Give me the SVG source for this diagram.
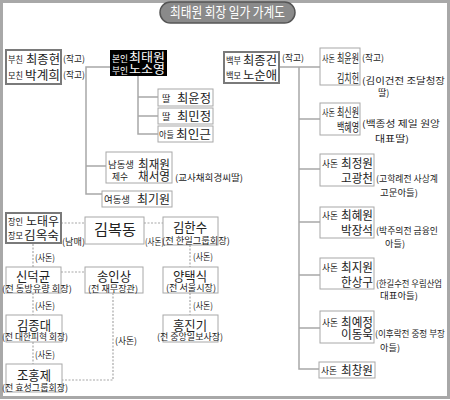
<svg xmlns="http://www.w3.org/2000/svg" width="450" height="400" viewBox="0 0 450 400">
<style>
text{font-family:"Noto Sans CJK KR","Noto Sans",sans-serif;fill:#222}
.s{font-size:9px}
.n{font-size:12px}
.b{font-size:14px}
.box{fill:#fff;stroke:#a8a8a8;stroke-width:1}
.tbox{fill:#fff;stroke:#7a7a7a;stroke-width:2}
.ln{fill:none;stroke:#a8a8a8;stroke-width:1.5}
.dl{fill:none;stroke:#a8a8a8;stroke-width:1.2;stroke-dasharray:2 1.5}
.w{fill:#fff}
.c{text-anchor:middle}
</style>
<rect x="1.5" y="1.5" width="447" height="396" fill="#fff" stroke="#a8a8a8" stroke-width="3"/>

<g id="title">
<rect x="160" y="2" width="135" height="21" rx="10.5" fill="#8a8a8a" stroke="#555" stroke-width="1.5"/>
<text x="227.5" y="17" class="c w" font-size="14" textLength="115" lengthAdjust="spacingAndGlyphs">최태원 회장 일가 가계도</text>
</g>

<g id="connectors">
<path class="ln" d="M110,67 H86 V194 H102 M86,166 H106"/>
<path class="ln" d="M138,76 V134 H158 M138,97 H158 M138,116 H158"/>
<path class="ln" d="M279,67 H320 M299,67 V369 H319 M299,119 H320 M299,169 H320 M299,222 H320 M299,275 H320 M299,328 H320"/>
<path class="dl" d="M61,223 H85 M144,223 H163 M190,245 V267 M190,293 V315 M33,244 V267 M33,293 V315 M33,342 V364 M61,272 H85 M113,293 V380 H62"/>
</g>

<g id="parents">
<rect class="tbox" x="6" y="50" width="55" height="34"/>
<text class="s" x="8" y="63" textLength="15" lengthAdjust="spacingAndGlyphs">부친</text>
<text class="n" x="26" y="64" textLength="34" lengthAdjust="spacingAndGlyphs">최종현</text>
<text class="s" x="8" y="79" textLength="15" lengthAdjust="spacingAndGlyphs">모친</text>
<text class="n" x="25" y="80" font-size="13" textLength="35" lengthAdjust="spacingAndGlyphs">박계희</text>
<text class="s" x="63" y="62" textLength="22" lengthAdjust="spacingAndGlyphs">(작고)</text>
<text class="s" x="63" y="78" textLength="22" lengthAdjust="spacingAndGlyphs">(작고)</text>
</g>

<g id="self">
<rect x="110" y="50" width="57" height="26" fill="#000"/>
<text class="s w" x="112" y="62" textLength="16" lengthAdjust="spacingAndGlyphs">본인</text>
<text class="n w" x="129" y="62" textLength="36" lengthAdjust="spacingAndGlyphs">최태원</text>
<text class="s w" x="112" y="74" textLength="16" lengthAdjust="spacingAndGlyphs">부인</text>
<text class="n w" x="129" y="74" textLength="36" lengthAdjust="spacingAndGlyphs">노소영</text>
</g>

<g id="daughter1">
<rect class="box" x="158" y="89" width="55" height="17"/>
<text class="s" x="162" y="102">딸</text>
<text class="n" x="177" y="103" textLength="34" lengthAdjust="spacingAndGlyphs">최윤정</text>
</g>
<g id="daughter2">
<rect class="box" x="158" y="108" width="55" height="16"/>
<text class="s" x="162" y="120">딸</text>
<text class="n" x="177" y="121" textLength="34" lengthAdjust="spacingAndGlyphs">최민정</text>
</g>
<g id="son">
<rect class="box" x="158" y="126" width="55" height="16"/>
<text class="s" x="159" y="138" textLength="15" lengthAdjust="spacingAndGlyphs">아들</text>
<text class="n" x="176" y="139" textLength="35" lengthAdjust="spacingAndGlyphs">최인근</text>
</g>

<g id="brother">
<rect class="box" x="106" y="152" width="66" height="31"/>
<text class="s" x="108" y="168" textLength="26" lengthAdjust="spacingAndGlyphs">남동생</text>
<text class="n" x="138" y="169" textLength="32" lengthAdjust="spacingAndGlyphs">최재원</text>
<text class="s" x="112" y="180" textLength="16" lengthAdjust="spacingAndGlyphs">제수</text>
<text class="n" x="138" y="181" textLength="32" lengthAdjust="spacingAndGlyphs">채서영</text>
<text class="s" x="175" y="181" textLength="68" lengthAdjust="spacingAndGlyphs">(교사채희경씨딸)</text>
</g>

<g id="sister">
<rect class="box" x="102" y="191" width="70" height="16"/>
<text class="s" x="104" y="203" textLength="26" lengthAdjust="spacingAndGlyphs">여동생</text>
<text class="n" x="137" y="204" textLength="33" lengthAdjust="spacingAndGlyphs">최기원</text>
</g>

<g id="uncle">
<rect class="tbox" x="224" y="52" width="55" height="31"/>
<text class="s" x="226" y="64" textLength="15" lengthAdjust="spacingAndGlyphs">백부</text>
<text class="n" x="243" y="65" textLength="34" lengthAdjust="spacingAndGlyphs">최종건</text>
<text class="s" x="226" y="79" textLength="15" lengthAdjust="spacingAndGlyphs">백모</text>
<text class="n" x="243" y="80" textLength="34" lengthAdjust="spacingAndGlyphs">노순애</text>
<text class="s" x="282" y="61" textLength="22" lengthAdjust="spacingAndGlyphs">(작고)</text>
</g>

<g id="cousin1">
<rect class="box" x="320" y="48" width="40" height="37"/>
<text class="s" x="322" y="62" textLength="13" lengthAdjust="spacingAndGlyphs">사돈</text>
<text class="n" x="337" y="63" textLength="22" lengthAdjust="spacingAndGlyphs">최윤원</text>
<text class="n" x="337" y="83" textLength="22" lengthAdjust="spacingAndGlyphs">김치헌</text>
<text class="s" x="362" y="61" textLength="22" lengthAdjust="spacingAndGlyphs">(작고)</text>
<text class="s" x="362" y="84" textLength="83" lengthAdjust="spacingAndGlyphs">(김이건전 조달청장</text>
<text class="s" x="378" y="96">딸)</text>
</g>

<g id="cousin2">
<rect class="box" x="320" y="103" width="40" height="32"/>
<text class="s" x="322" y="116" textLength="13" lengthAdjust="spacingAndGlyphs">사돈</text>
<text class="n" x="337" y="117" textLength="22" lengthAdjust="spacingAndGlyphs">최신원</text>
<text class="n" x="337" y="132" textLength="22" lengthAdjust="spacingAndGlyphs">백혜영</text>
<text class="s" x="362" y="127" textLength="78" lengthAdjust="spacingAndGlyphs">(백종성 제일 원앙</text>
<text class="s" x="375" y="142" textLength="34" lengthAdjust="spacingAndGlyphs">대표딸)</text>
</g>

<g id="cousin3">
<rect class="box" x="320" y="154" width="54" height="32"/>
<text class="s" x="322" y="167" textLength="16" lengthAdjust="spacingAndGlyphs">사돈</text>
<text class="n" x="341" y="168" textLength="32" lengthAdjust="spacingAndGlyphs">최정원</text>
<text class="n" x="341" y="183" textLength="32" lengthAdjust="spacingAndGlyphs">고광천</text>
<text class="s" x="376" y="182" textLength="62" lengthAdjust="spacingAndGlyphs">(고학례전 사상계</text>
<text class="s" x="380" y="196" textLength="38" lengthAdjust="spacingAndGlyphs">고문아들)</text>
</g>

<g id="cousin4">
<rect class="box" x="320" y="207" width="54" height="31"/>
<text class="s" x="322" y="219" textLength="16" lengthAdjust="spacingAndGlyphs">사돈</text>
<text class="n" x="341" y="220" textLength="32" lengthAdjust="spacingAndGlyphs">최혜원</text>
<text class="n" x="341" y="235" textLength="32" lengthAdjust="spacingAndGlyphs">박장석</text>
<text class="s" x="376" y="234" textLength="62" lengthAdjust="spacingAndGlyphs">(박주의전 금융인</text>
<text class="s" x="385" y="247" textLength="20" lengthAdjust="spacingAndGlyphs">아들)</text>
</g>

<g id="cousin5">
<rect class="box" x="320" y="258" width="54" height="31"/>
<text class="s" x="322" y="271" textLength="16" lengthAdjust="spacingAndGlyphs">사돈</text>
<text class="n" x="341" y="272" textLength="32" lengthAdjust="spacingAndGlyphs">최지원</text>
<text class="n" x="341" y="287" textLength="32" lengthAdjust="spacingAndGlyphs">한상구</text>
<text class="s" x="376" y="287" textLength="66" lengthAdjust="spacingAndGlyphs">(한길수전 우림산업</text>
<text class="s" x="380" y="299" textLength="38" lengthAdjust="spacingAndGlyphs">대표아들)</text>
</g>

<g id="cousin6">
<rect class="box" x="320" y="311" width="54" height="32"/>
<text class="s" x="322" y="326" textLength="16" lengthAdjust="spacingAndGlyphs">사돈</text>
<text class="n" x="341" y="327" textLength="32" lengthAdjust="spacingAndGlyphs">최예정</text>
<text class="n" x="341" y="339" textLength="32" lengthAdjust="spacingAndGlyphs">이동욱</text>
<text class="s" x="375" y="337" textLength="70" lengthAdjust="spacingAndGlyphs">(이후락전 중정 부장</text>
<text class="s" x="380" y="351" textLength="20" lengthAdjust="spacingAndGlyphs">아들)</text>
</g>

<g id="cousin7">
<rect class="box" x="319" y="362" width="56" height="16"/>
<text class="s" x="321" y="374" textLength="16" lengthAdjust="spacingAndGlyphs">사돈</text>
<text class="n" x="341" y="375" textLength="32" lengthAdjust="spacingAndGlyphs">최창원</text>
</g>

<g id="inlaws">
<rect class="tbox" x="6" y="213" width="55" height="30"/>
<text class="s" x="8" y="225" textLength="15" lengthAdjust="spacingAndGlyphs">장인</text>
<text class="n" x="26" y="226" textLength="33" lengthAdjust="spacingAndGlyphs">노태우</text>
<text class="s" x="8" y="239" textLength="15" lengthAdjust="spacingAndGlyphs">장모</text>
<text class="n" x="24" y="240" font-size="13" textLength="35" lengthAdjust="spacingAndGlyphs">김옥숙</text>
<text class="s" x="62" y="245" textLength="23" lengthAdjust="spacingAndGlyphs">(남매)</text>
</g>

<g id="kimbokdong">
<rect class="box" x="85" y="217" width="59" height="27"/>
<text class="c" x="115" y="235" font-size="15" textLength="42" lengthAdjust="spacingAndGlyphs">김복동</text>
<text class="s" x="145" y="245" textLength="19" lengthAdjust="spacingAndGlyphs">(사돈)</text>
</g>

<g id="kimhansu">
<rect class="box" x="163" y="217" width="55" height="28"/>
<text class="c" x="190" y="232" font-size="13" textLength="34" lengthAdjust="spacingAndGlyphs">김한수</text>
<text class="s" x="162" y="244" textLength="68" lengthAdjust="spacingAndGlyphs">(전 한일그룹회장)</text>
<text class="s" x="193" y="260" textLength="20" lengthAdjust="spacingAndGlyphs">(사돈)</text>
</g>

<g id="yangtaeksik">
<rect class="box" x="163" y="267" width="55" height="26"/>
<text class="c" x="190" y="281" font-size="13" textLength="34" lengthAdjust="spacingAndGlyphs">양택식</text>
<text class="s" x="166" y="291" textLength="50" lengthAdjust="spacingAndGlyphs">(전 서울시장)</text>
<text class="s" x="193" y="309" textLength="20" lengthAdjust="spacingAndGlyphs">(사돈)</text>
</g>

<g id="hongjingi">
<rect class="box" x="163" y="315" width="55" height="27"/>
<text class="c" x="190" y="330" font-size="13" textLength="34" lengthAdjust="spacingAndGlyphs">홍진기</text>
<text class="s" x="157" y="340" textLength="66" lengthAdjust="spacingAndGlyphs">(전 중앙일보사장)</text>
</g>

<g id="sindeokgyun">
<text class="s" x="35" y="261" textLength="20" lengthAdjust="spacingAndGlyphs">(사돈)</text>
<rect class="box" x="6" y="267" width="55" height="26"/>
<text class="c" x="33" y="281" font-size="13" textLength="34" lengthAdjust="spacingAndGlyphs">신덕균</text>
<text class="s" x="2" y="292" textLength="70" lengthAdjust="spacingAndGlyphs">(전 동방유량 회장)</text>
</g>

<g id="songinsang">
<rect class="box" x="85" y="267" width="58" height="26"/>
<text class="c" x="114" y="281" font-size="13" textLength="34" lengthAdjust="spacingAndGlyphs">송인상</text>
<text class="s" x="88" y="292" textLength="50" lengthAdjust="spacingAndGlyphs">(전 재무장관)</text>
<text class="s" x="115" y="344" textLength="22" lengthAdjust="spacingAndGlyphs">(사돈)</text>
</g>

<g id="kimjongdae">
<text class="s" x="35" y="309" textLength="20" lengthAdjust="spacingAndGlyphs">(사돈)</text>
<rect class="box" x="6" y="315" width="56" height="27"/>
<text class="c" x="34" y="330" font-size="13" textLength="34" lengthAdjust="spacingAndGlyphs">김종대</text>
<text class="s" x="2" y="340" textLength="66" lengthAdjust="spacingAndGlyphs">(전 대한피혁 회장)</text>
</g>

<g id="johongje">
<text class="s" x="35" y="358" textLength="20" lengthAdjust="spacingAndGlyphs">(사돈)</text>
<rect class="box" x="6" y="364" width="56" height="28"/>
<text class="c" x="34" y="380" font-size="13" textLength="34" lengthAdjust="spacingAndGlyphs">조홍제</text>
<text class="s" x="2" y="391" textLength="66" lengthAdjust="spacingAndGlyphs">(전 효성그룹회장)</text>
</g>
</svg>
